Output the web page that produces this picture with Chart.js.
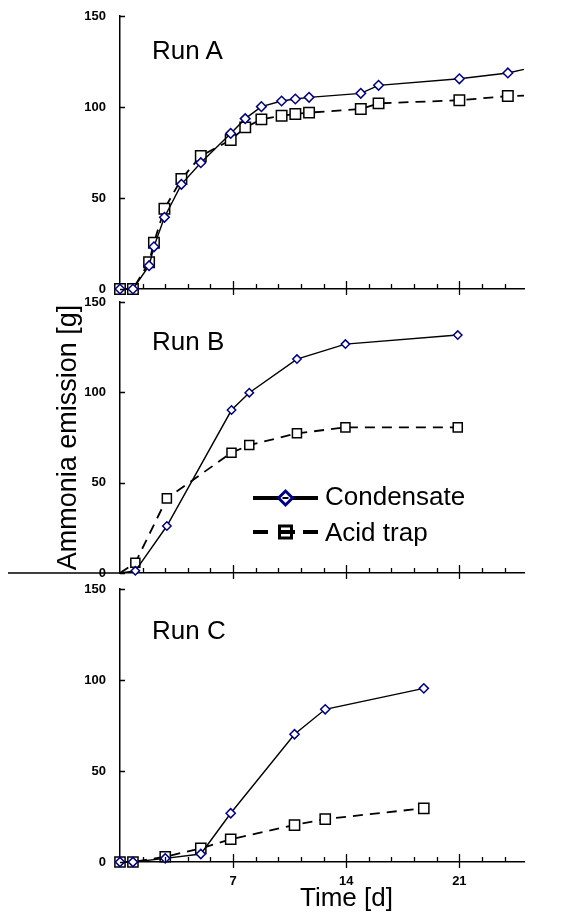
<!DOCTYPE html>
<html>
<head>
<meta charset="utf-8">
<script src="https://cdn.jsdelivr.net/npm/chart.js@4"></script>
<style>
  body { margin: 0; background: #fff; }
  #wrap { position: relative; width: 567px; height: 913px; font-family: Arial, "Liberation Sans", sans-serif; }
  canvas { position: absolute; left: 0; }
  .lbl { position: absolute; font-size: 26px; line-height: 26px; color: #000; white-space: nowrap; }
</style>
</head>
<body>
<div id="wrap">
  <canvas id="runA" width="567" height="300" style="top:0px"></canvas>
  <canvas id="runB" width="567" height="295" style="top:290px"></canvas>
  <canvas id="runC" width="567" height="336" style="top:577px"></canvas>
  <div class="lbl" style="left:152px;top:37px">Run A</div>
  <div class="lbl" style="left:152px;top:328px">Run B</div>
  <div class="lbl" style="left:152px;top:617px">Run C</div>
  <div class="lbl" style="left:300px;top:884px">Time [d]</div>
</div>
<script>
// time in days, emission in g
const timeA = [0, 0.8, 1.8, 2.1, 2.75, 3.8, 5.0, 6.85, 7.75, 8.75, 10.0, 10.85, 11.7, 14.9, 16.0, 21.0, 24.0, 25];
const condA = [0, 0, 12.8, 23.2, 39.4, 57.5, 69.4, 85.5, 93.6, 100.2, 103.3, 104.4, 105.3, 107.5, 111.9, 115.5, 118.7, 120.7];
const acidA = [0, 0, 14.7, 25.4, 44.1, 60.4, 73.1, 81.9, 88.8, 93.2, 95.2, 96.2, 96.9, 98.9, 102.0, 103.7, 106.0, 106.2];

const timeB = [0, 0.95, 2.9, 6.9, 8.0, 10.95, 13.95, 20.9];
const condB = [0, 1.2, 26.0, 90.2, 99.8, 118.4, 126.7, 131.7];
const acidB = [0, 5.7, 41.3, 66.6, 70.8, 77.3, 80.6, 80.6];

const timeC = [0, 0.8, 2.8, 5.0, 6.85, 10.8, 12.7, 18.8];
const condC = [0, 0, 2.0, 4.4, 26.8, 70.2, 83.9, 95.4];
const acidC = [0, 0, 2.9, 7.5, 12.5, 20.3, 23.6, 29.5];

const seriesNames = ['Condensate', 'Acid trap'];
const yTicks = [0, 50, 100, 150];
const xLabels = [7, 14, 21];
const xMax = 25;
const minorStep = 1.4;

const FONT = 'Arial, "Liberation Sans", sans-serif';

// tick marks on both axes (inward, majors cross the x axis)
const axisTicks = {
  id: 'axisTicks',
  afterDraw(chart, args, opts) {
    const {ctx, chartArea} = chart;
    const x = chart.scales.x, y = chart.scales.y;
    const base = y.getPixelForValue(0);
    ctx.save();
    ctx.strokeStyle = '#000';
    ctx.lineWidth = 1.3;
    ctx.beginPath();
    for (let k = 1; k * minorStep <= xMax; k++) {
      const px = Math.round(x.getPixelForValue(k * minorStep)) + 0.5;
      const major = k % 5 === 0;
      ctx.moveTo(px, base - (major ? 8 : 5));
      ctx.lineTo(px, base + (major ? 6 : 0));
    }
    yTicks.forEach(v => {
      const py = Math.round(y.getPixelForValue(v)) + 0.5;
      ctx.moveTo(chartArea.left, py);
      ctx.lineTo(chartArea.left + 5, py);
    });
    if (opts.extendLeft) {
      ctx.moveTo(8, base);
      ctx.lineTo(chartArea.left, base);
    }
    ctx.stroke();
    ctx.restore();
  }
};

// legend box inside the middle panel
const insideLegend = {
  id: 'insideLegend',
  afterDraw(chart, args, opts) {
    if (!opts.show) return;
    const ctx = chart.ctx;
    const x0 = 253, x1 = 318, tx = 325;
    const y1 = 208, y2 = 242;
    ctx.save();
    ctx.strokeStyle = '#000';
    ctx.lineWidth = 4;
    ctx.beginPath();
    ctx.moveTo(x0, y1); ctx.lineTo(x1, y1);
    ctx.moveTo(x0, y2); ctx.lineTo(x0 + 15, y2);
    ctx.moveTo(x1 - 15, y2); ctx.lineTo(x1, y2);
    ctx.moveTo(x0 + 28, y2); ctx.lineTo(x0 + 42, y2);
    ctx.stroke();
    const mid = (x0 + x1) / 2;
    // diamond
    ctx.lineWidth = 3;
    ctx.strokeStyle = '#000080';
    ctx.fillStyle = '#fff';
    ctx.beginPath();
    ctx.moveTo(mid, y1 - 7); ctx.lineTo(mid + 7, y1); ctx.lineTo(mid, y1 + 7); ctx.lineTo(mid - 7, y1); ctx.closePath();
    ctx.fill(); ctx.stroke();
    ctx.fillStyle = '#000';
    ctx.fillRect(mid - 3, y1 - 1, 6, 2);
    // square
    ctx.strokeStyle = '#000';
    ctx.strokeRect(mid - 6, y2 - 6, 12, 12);
    ctx.font = '26px ' + FONT;
    ctx.fillStyle = '#000';
    ctx.textBaseline = 'middle';
    ctx.fillText(chart.data.datasets[0].label, tx, y1);
    ctx.fillText(chart.data.datasets[1].label, tx, y2 + 2);
    ctx.restore();
  }
};

function points(time, vals) {
  return time.map((t, i) => ({x: t, y: vals[i]}));
}

function makeRun(id, time, cond, acid, cfg) {
  const hidden = cfg.hidden || [];
  const rad = r => c => hidden.includes(c.dataIndex) ? 0 : r;
  return new Chart(document.getElementById(id), {
    type: 'line',
    data: {
      datasets: [{
        label: seriesNames[0],
        data: points(time, cond),
        borderColor: '#000',
        borderWidth: 1.4,
        pointStyle: 'rectRot',
        pointRadius: rad(cfg.diamond),
        pointBorderColor: '#000080',
        pointBackgroundColor: '#fff',
        pointBorderWidth: 1.5,
        tension: 0,
        clip: false
      }, {
        label: seriesNames[1],
        data: points(time, acid),
        borderColor: '#000',
        borderWidth: 1.8,
        borderDash: [10, 7],
        pointStyle: 'rect',
        pointRadius: rad(cfg.square),
        pointBorderColor: '#000',
        pointBackgroundColor: '#fff',
        pointBorderWidth: 1.5,
        tension: 0,
        clip: false
      }]
    },
    options: {
      responsive: false,
      animation: false,
      events: [],
      layout: { padding: { top: cfg.padTop, right: 43, bottom: 0, left: 0 } },
      plugins: {
        legend: { display: false },
        tooltip: { enabled: false },
        axisTicks: { extendLeft: !!cfg.extendLeft },
        insideLegend: { show: !!cfg.legend }
      },
      scales: {
        x: {
          type: 'linear',
          min: 0,
          max: xMax,
          grid: { display: false, drawTicks: false },
          border: { display: true, color: '#000', width: 1.5 },
          ticks: {
            display: !!cfg.xLabels,
            stepSize: 7,
            includeBounds: false,
            padding: 12,
            color: '#000',
            font: { family: FONT, size: 13, weight: 'bold' },
            callback: v => xLabels.includes(v) ? String(v) : ''
          },
          afterFit: s => {
            s.height = cfg.xHeight;
            s.paddingLeft = s.paddingRight = 0;
          }
        },
        y: {
          min: 0,
          max: 150,
          grid: { display: false, drawTicks: false },
          border: { display: true, color: '#000', width: 1.5 },
          ticks: {
            stepSize: 50,
            padding: 14,
            color: '#000',
            font: { family: FONT, size: 13, weight: 'bold' }
          },
          title: {
            display: !!cfg.yTitle,
            text: 'Ammonia emission [g]',
            color: '#000',
            font: { family: FONT, size: 27 },
            padding: { top: 52, bottom: 0 }
          },
          afterFit: s => {
            s.width = 120;
            s.paddingTop = s.paddingBottom = 0;
          }
        }
      }
    },
    plugins: [axisTicks, insideLegend]
  });
}

makeRun('runA', timeA, condA, acidA, { padTop: 16, xHeight: 11, diamond: 4.8, square: 7.4, hidden: [timeA.length - 1] });
makeRun('runB', timeB, condB, acidB, { padTop: 12, xHeight: 12, diamond: 4.2, square: 6.4, hidden: [0], extendLeft: true, legend: true, yTitle: true });
makeRun('runC', timeC, condC, acidC, { padTop: 12, xHeight: 51, diamond: 4.6, square: 7.2, xLabels: true });
</script>
</body>
</html>
